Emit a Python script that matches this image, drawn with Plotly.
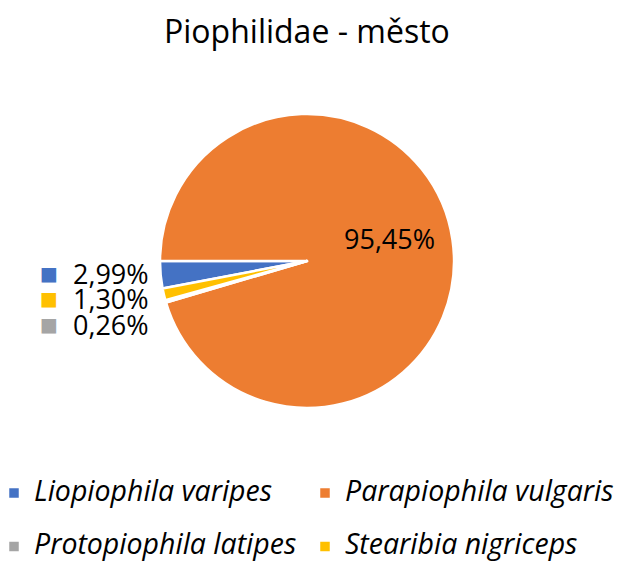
import plotly.graph_objects as go

title_text = "Piophilidae - město"
species = ["Liopiophila varipes", "Parapiophila vulgaris", "Protopiophila latipes", "Stearibia nigriceps"]
shares = [2.99, 95.45, 0.26, 1.30]
colors = ["#4472C4", "#ED7D31", "#A5A5A5", "#FFC000"]

W, H = 620, 562
MB = 110            # bottom margin (legend lives below the plot area)
HP = H - MB         # plot-area height
FONT = "Open Sans"

total = sum(shares)
# first slice (blue) ends exactly at 9 o'clock, clockwise direction
rotation = 270 - 360 * shares[0] / total

# centre / radius of the pie in px
cx, cy, r = 307, 261, 147


def px_x(x):
    return x / W


def px_y(y):
    return (HP - y) / HP


def pct_text(v):
    return f"{v / total * 100:.2f}".replace(".", ",") + "%"


legend_labels = [f"<span style='font-size:28.5px'>{s}</span><br> " for s in species]

fig = go.Figure(go.Pie(
    labels=legend_labels,
    values=shares,
    sort=False,
    direction="clockwise",
    rotation=rotation,
    marker=dict(colors=colors, line=dict(color="white", width=2.5)),
    textinfo="none",
    domain=dict(x=[px_x(cx - r), px_x(cx + r)], y=[px_y(cy + r), px_y(cy - r)]),
    customdata=species,
    hovertemplate="%{customdata}: %{percent:.2%}<extra></extra>",
))

# label of the big slice, inside
big = shares.index(max(shares))
fig.add_annotation(x=px_x(389), y=px_y(238), xref="paper", yref="paper",
                   text=pct_text(shares[big]), showarrow=False,
                   xanchor="center", yanchor="middle",
                   font=dict(family=FONT, size=27, color="black"))

# outside labels for the small slices, Excel-style with legend key
small = [i for i, v in enumerate(shares) if i != big]
small_sorted = sorted(small, key=lambda i: -shares[i])
ys = [273, 298, 324]
for k, i in enumerate(small_sorted):
    fig.add_annotation(x=px_x(49), y=px_y(ys[k]), xref="paper", yref="paper", text="■",
                       showarrow=False, xanchor="center", yanchor="middle",
                       font=dict(family="DejaVu Sans", size=19, color=colors[i]))
    fig.add_annotation(x=px_x(151), y=px_y(ys[k]), xref="paper", yref="paper",
                       text=pct_text(shares[i]),
                       showarrow=False, xanchor="right", yanchor="middle",
                       font=dict(family=FONT, size=27, color="black"))

fig.update_layout(
    width=W, height=H,
    margin=dict(l=0, r=0, t=0, b=MB, autoexpand=False),
    paper_bgcolor="white", plot_bgcolor="white",
    separators=", ",
    title=dict(text=title_text, x=0.495, xanchor="center", y=1 - 32 / H, yanchor="middle",
               yref="container", font=dict(family=FONT, size=32, color="black")),
    showlegend=True,
    legend=dict(orientation="h", x=px_x(-6), xanchor="left", y=px_y(474), yanchor="top",
                valign="top", entrywidth=266, entrywidthmode="pixels",
                font=dict(family=FONT, size=19.4, color="black", style="italic"),
                traceorder="normal"),
)

fig.write_html("out.html", config={"displayModeBar": False},
               post_script="document.body.style.margin='0';")
